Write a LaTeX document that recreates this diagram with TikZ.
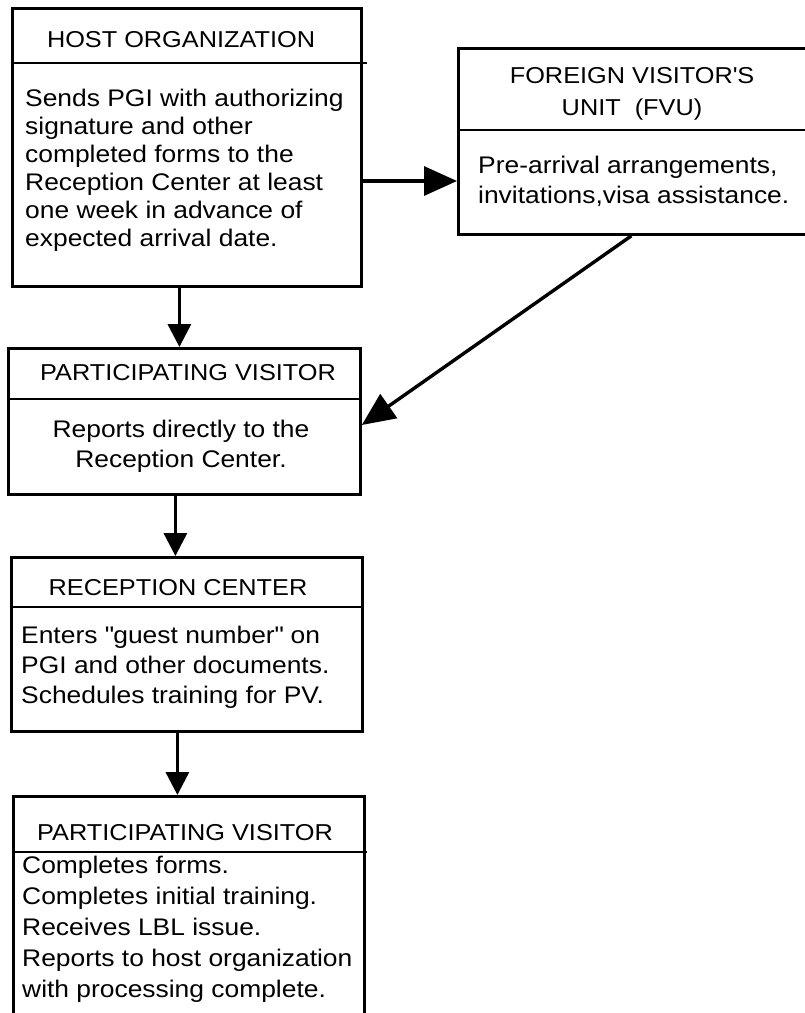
\documentclass[tikz,border=0pt]{standalone}
\usepackage{fontspec}
\setmainfont[FakeStretch=1.1]{Liberation Sans}
\usetikzlibrary{arrows.meta}
\tikzset{
  box/.style={draw, line width=2.8pt, inner sep=0pt, anchor=north west},
  divider/.style={line width=2.8pt},
  head/.style={inner sep=0pt, font=\fontsize{23}{32}\selectfont},
  body/.style={inner sep=0pt, font=\fontsize{24}{29}\selectfont},
  arr/.style={line width=3.4pt, -{Triangle[length=23pt,width=23pt]}},
  bigarr/.style={line width=3.4pt, -{Triangle[length=33pt,width=29pt]}},
}
\begin{document}
\begin{tikzpicture}[x=1pt,y=-1pt]
\useasboundingbox (0,0) rectangle (805,1013);
\begin{scope}
\clip (0,0) rectangle (805,1013);
% boxes
\node[box, minimum width=349pt, minimum height=278pt] (ho) at (11,7) {};
\node[box, minimum width=353pt, minimum height=186pt] (fvu) at (457,47) {};
\node[box, minimum width=352pt, minimum height=146pt] (pv1) at (7,347) {};
\node[box, minimum width=351pt, minimum height=174pt] (rc) at (10,556) {};
\node[box, minimum width=351pt, minimum height=230pt] (pv2) at (12,795) {};
% dividers
\draw[divider] (11,63) -- (367,63);
\draw[divider] (457,130) -- (810,130);
\draw[divider] (7,399) -- (362,399);
\draw[divider] (10,607) -- (361,607);
\draw[divider] (12,852) -- (367,852);
\end{scope}
% headers
\node[head, anchor=base] (hoh) at (181,47) {HOST ORGANIZATION};
\node[head, anchor=north, align=center] (fvuh) at (632,67) {FOREIGN VISITOR\textquotesingle S\\UNIT\ \ (FVU)};
\node[head, anchor=base] (pv1h) at (188,380) {PARTICIPATING VISITOR};
\node[head, anchor=base] (rch) at (178,595) {RECEPTION CENTER};
\node[head, anchor=base] (pv2h) at (185,840) {PARTICIPATING VISITOR};
% bodies
\node[body, anchor=north west, align=left, font=\fontsize{24}{28}\selectfont] (hob) at (25,89)
  {Sends PGI with authorizing\\signature and other\\completed forms to the\\Reception Center at least\\one week in advance of\\expected arrival date.};
\node[body, anchor=north west, align=left, font=\fontsize{24}{30}\selectfont] (fvub) at (478,156)
  {Pre-arrival arrangements,\\invitations,visa assistance.};
\node[body, anchor=north, align=center, font=\fontsize{24}{30}\selectfont] (pv1b) at (181,420)
  {Reports directly to the\\Reception Center.};
\node[body, anchor=north west, align=left, font=\fontsize{24}{30}\selectfont] (rcb) at (21,626)
  {Enters \textquotedbl guest number\textquotedbl{} on\\PGI and other documents.\\Schedules training for PV.};
\node[body, anchor=north west, align=left, font=\fontsize{24}{31}\selectfont] (pv2b) at (22,856)
  {Completes forms.\\Completes initial training.\\Receives LBL issue.\\Reports to host organization\\with processing complete.};
% connectors
\draw[arr] ([xshift=-7.5pt]ho.south) -- ([xshift=-7.5pt]ho.south |- pv1.north);
\draw[bigarr] (ho.east |- 0,181) -- (fvu.west |- 0,181);
\draw[bigarr] ([xshift=-3.5pt]fvu.south) -- (pv1.east |- 0,425);
\draw[arr] ([xshift=-9pt]pv1.south) -- ([xshift=-9pt]pv1.south |- rc.north);
\draw[arr] ([xshift=-9.5pt]rc.south) -- ([xshift=-9.5pt]rc.south |- pv2.north);
\end{tikzpicture}
\end{document}
